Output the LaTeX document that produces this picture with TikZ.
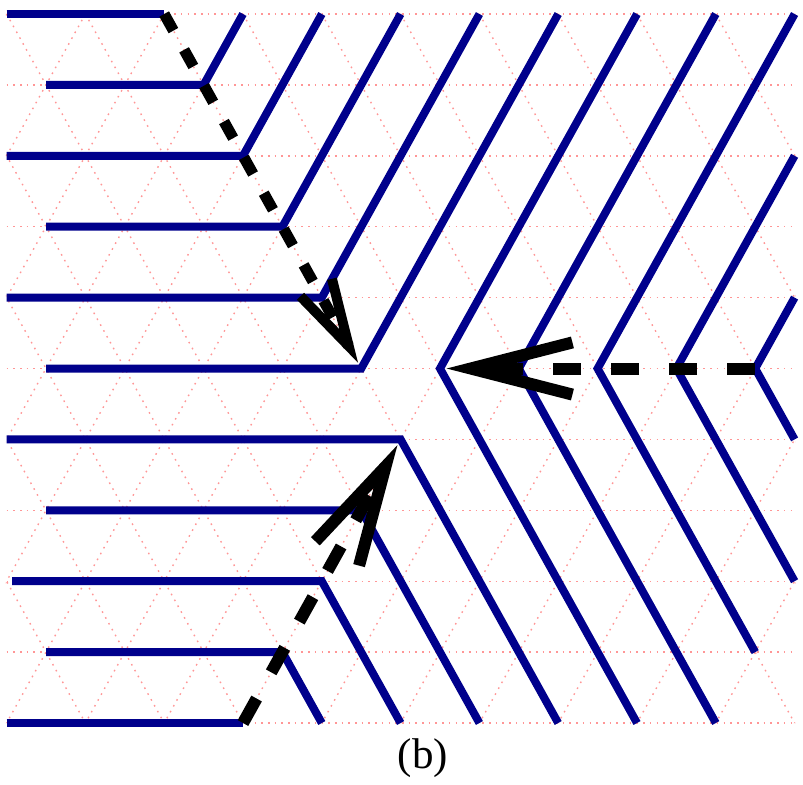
\documentclass[tikz,border=0pt]{standalone}
\usepackage{fontspec}
\setmainfont{Liberation Serif}
\usetikzlibrary{calc}
\definecolor{vblue}{RGB}{0,0,140}
\definecolor{gridpink}{RGB}{255,150,150}
\begin{document}
\begin{tikzpicture}[x=39.4pt,y=-35.45pt,
  gridline/.style={gridpink, line width=0.7pt, dash pattern=on 0.8pt off 2.55pt},
  wall/.style={vblue, line width=4pt, line join=miter, line cap=butt},
  flowdash/.style={black, line width=6pt, line cap=butt, dash pattern=on 14pt off 15pt},
  smalldash/.style={black, line width=5.5pt, line cap=butt, dash pattern=on 9.5pt off 11pt},
  vhead/.style={black, line width=6pt, line join=miter, line cap=butt, miter limit=20}]
\path[use as bounding box] (-0.08376,-0.19746) rectangle (10.1066,10.8604);
% triangular lattice
\begin{scope}
\clip (-0.01,-0.02) rectangle (10.01,10.02);
\foreach \r in {0,...,10} \draw[gridline] (0,\r) -- (10,\r);
\foreach \c in {-5,...,10} \draw[gridline] (\c,0) -- ({\c+5},10);
\foreach \c in {0,...,15} \draw[gridline] (\c,0) -- ({\c-5},10);
\end{scope}
% upper walls
\draw[wall] (0,0) -- (2,0);
\draw[wall] (0.5,1) -- (2.5,1) -- (3,0);
\draw[wall] (0,2) -- (3,2) -- (4,0);
\draw[wall] (0.5,3) -- (3.5,3) -- (5,0);
\draw[wall] (0,4) -- (4,4) -- (6,0);
\draw[wall] (0.5,5) -- (4.5,5) -- (7,0);
% right chevrons
\draw[wall] (8,0) -- (5.5,5) -- (8,10);
\draw[wall] (9,0) -- (6.5,5) -- (9,10);
\draw[wall] (10,0) -- (7.5,5) -- (9.5,9);
\draw[wall] (10,2) -- (8.5,5) -- (10,8);
\draw[wall] (10,4) -- (9.5,5) -- (10,6);
% lower walls
\draw[wall] (0,6) -- (5,6) -- (7,10);
\draw[wall] (0.5,7) -- (4.5,7) -- (6,10);
\draw[wall] (0.07,8) -- (4,8) -- (5,10);
\draw[wall] (0.5,9) -- (3.5,9) -- (4,10);
\draw[wall] (0,10) -- (3,10);
% arrow 1 (upper)
\coordinate (ua) at (2,0);
\coordinate (ut) at (4.5,5);
\coordinate (uTip) at ($(ut)!3.25pt!(ua)$);
\coordinate (uV) at ($(uTip)!9.65pt!(ua)$);
\coordinate (uL) at ($(uTip)!44pt!11.8:(ua)$);
\coordinate (uR) at ($(uTip)!44pt!-11.8:(ua)$);
\draw[smalldash] (ua) -- (uV);
\draw[vhead, line width=5pt] (uL) -- (uV) -- (uR);
% arrow 2 (horizontal)
\coordinate (ha) at (9.5,5);
\coordinate (ht) at (5.5,5);
\coordinate (hTip) at ($(ht)!3.25pt!(ha)$);
\coordinate (hV) at ($(hTip)!12.15pt!(ha)$);
\coordinate (hL) at ($(hTip)!64.3pt!11.7:(ha)$);
\coordinate (hR) at ($(hTip)!64.3pt!-11.7:(ha)$);
\draw[flowdash] (ha) -- (hV);
\draw[vhead] (hL) -- (hV) -- (hR);
% arrow 3 (lower)
\coordinate (la) at (3,10);
\coordinate (lt) at (5,6);
\coordinate (lTip) at ($(lt)!3.25pt!(la)$);
\coordinate (lV) at ($(lTip)!12.3pt!(la)$);
\coordinate (lL) at ($(lTip)!63.25pt!11.4:(la)$);
\coordinate (lR) at ($(lTip)!63.25pt!-11.4:(la)$);
\draw[flowdash] (la) -- (lV);
\draw[vhead] (lL) -- (lV) -- (lR);
% label
\node[font=\fontsize{21.5}{24}\selectfont, anchor=base, inner sep=0pt] (lbl) at (5.284,10.635) {(b)};
\end{tikzpicture}
\end{document}
